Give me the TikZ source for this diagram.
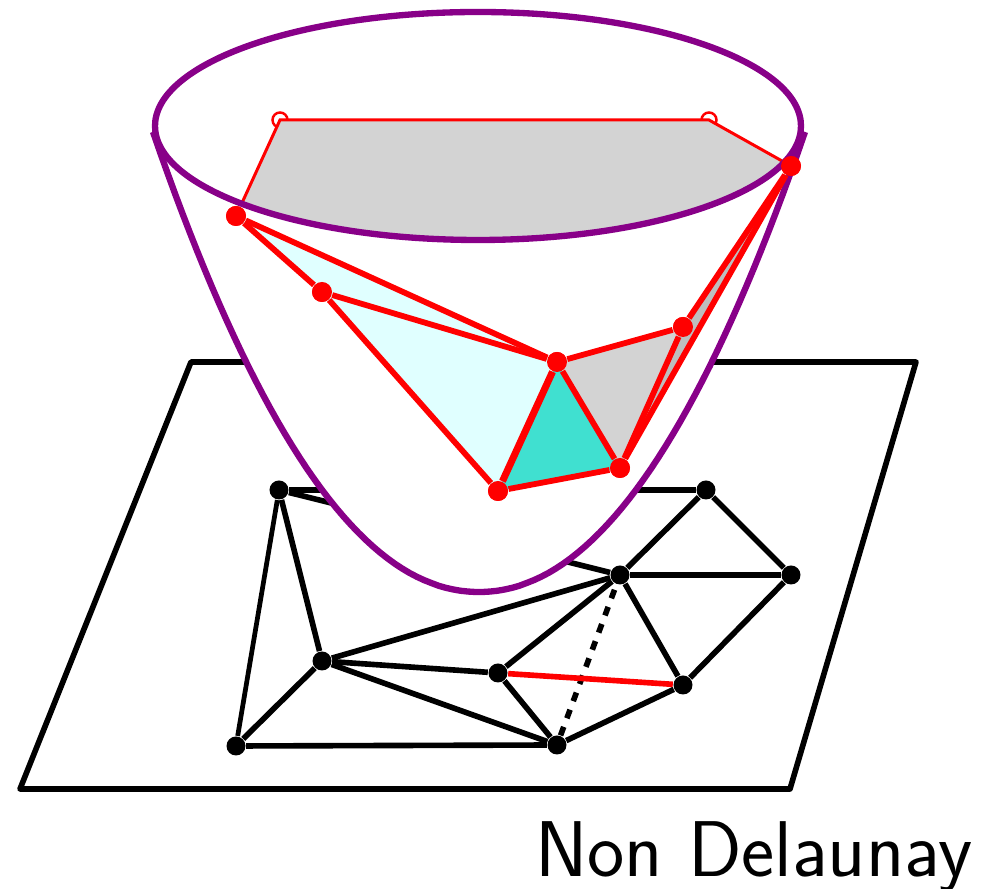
\documentclass[tikz,border=0pt]{standalone}
\usepackage{tikz}

\definecolor{darkmagenta}{RGB}{136,0,136}
\definecolor{facecyan}{RGB}{224,255,255}
\definecolor{faceturquoise}{RGB}{64,224,208}
\definecolor{facegray}{RGB}{211,211,211}
\definecolor{slivergray}{RGB}{190,190,190}

\tikzset{
	sitedot/.style={circle, fill=black, inner sep=0pt, minimum size=0.19cm},
	liftdot/.style={circle, fill=red, inner sep=0pt, minimum size=0.2cm},
	farlift/.style={circle, draw=red, fill=white, line width=0.7pt, inner sep=0pt, minimum size=0.15cm},
	edgeline/.style={line width=1.6pt, color=black},
	liftline/.style={line width=1.65pt, color=red},
	rimline/.style={line width=1.8pt, color=darkmagenta},
	thinlift/.style={line width=0.85pt, color=red}
}

\begin{document}
\begin{tikzpicture}
	\useasboundingbox (0,0) rectangle (9.92,8.89);
	% plane
	\draw[edgeline, line join=round] (1.91,5.27) -- (9.16,5.27) -- (7.90,1.00) -- (0.20,1.00) -- cycle;
	% sites in the plane
	\node[sitedot] (a) at (2.36,1.43) {};
	\node[sitedot] (b) at (3.22,2.28) {};
	\node[sitedot] (c) at (5.57,1.44) {};
	\node[sitedot] (d) at (4.98,2.16) {};
	\node[sitedot] (e) at (6.83,2.04) {};
	\node[sitedot] (f) at (6.20,3.14) {};
	\node[sitedot] (g) at (7.91,3.14) {};
	\node[sitedot] (h) at (2.79,3.99) {};
	\node[sitedot] (i) at (7.06,3.99) {};
	% triangulation
	\foreach \u/\v in {a/b, a/c, b/c, b/d, b/f, b/h, d/c, d/f, c/e, e/f, e/g, f/g, f/i, f/h, g/i, h/i} {
		\draw[edgeline] (\u) -- (\v);
	}
	\draw[line width=1.35pt] (a) -- (h);
	% flipped edge
	\draw[line width=1.6pt, color=white] (c) -- (f);
	\draw[line width=1.6pt, dash pattern=on 2.6pt off 2.6pt] (c) -- (f);
	\draw[line width=1.6pt, color=red] (d) -- (e);
	% paraboloid
	\fill[white] plot[domain=-3.26:3.26, samples=90] ({4.79+\x}, {2.97+4.6*pow(abs(\x)/3.26+0.0001,2.06)}) -- cycle;
	\fill[white] (4.78,7.63) ellipse (3.23 and 1.14);
	\draw[rimline] plot[domain=-3.26:3.26, samples=90] ({4.79+\x}, {2.97+4.6*pow(abs(\x)/3.26+0.0001,2.06)});
	% points out of sight on the far side
	\node[farlift] (hh) at (2.80,7.69) {};
	\node[farlift] (ii) at (7.09,7.69) {};
	\node[liftdot] (aa) at (2.36,6.73) {};
	\node[liftdot] (bb) at (3.22,5.97) {};
	\node[liftdot] (cc) at (5.57,5.27) {};
	\node[liftdot] (dd) at (4.98,3.98) {};
	\node[liftdot] (ee) at (6.83,5.62) {};
	\node[liftdot] (ff) at (6.20,4.21) {};
	\node[liftdot] (gg) at (7.91,7.23) {};
	% far face, seen through the rim
	\begin{scope}
		\clip (4.78,7.63) ellipse (3.23 and 1.14);
		\fill[facegray] (hh.center) -- (ii.center) -- (gg.center) -- (7.91,6.0) -- (2.36,6.0) -- (aa.center) -- cycle;
		\draw[thinlift] (aa.center) -- (hh.center) -- (ii.center) -- (gg.center);
	\end{scope}
	\draw[rimline] (4.78,7.63) ellipse (3.23 and 1.14);
	% lifted faces
	\fill[facecyan] (aa.center) -- (cc.center) -- (dd.center) -- (bb.center) -- cycle;
	\fill[faceturquoise] (cc.center) -- (ff.center) -- (dd.center) -- cycle;
	\fill[facegray] (cc.center) -- (ee.center) -- (ff.center) -- cycle;
	\fill[slivergray] (ee.center) -- (gg.center) -- (ff.center) -- cycle;
	\foreach \u/\v in {aa/bb, aa/cc, bb/cc, bb/dd, cc/ee, cc/ff, dd/ff, ee/ff, ee/gg, ff/gg} {
		\draw[liftline] (\u) -- (\v);
	}
	\draw[line width=2pt, color=red] (cc) -- (dd);
	% redraw dots above the lines
	\foreach \p/\q in {2.36/6.73, 3.22/5.97, 5.57/5.27, 4.98/3.98, 6.83/5.62, 6.20/4.21, 7.91/7.23} {
		\fill[red] (\p,\q) circle (0.1);
	}
	\node[anchor=base east, inner sep=0pt, font=\sffamily\fontsize{22.5}{24}\selectfont] (title) at (9.73,0.12) {Non Delaunay};
\end{tikzpicture}
\end{document}
